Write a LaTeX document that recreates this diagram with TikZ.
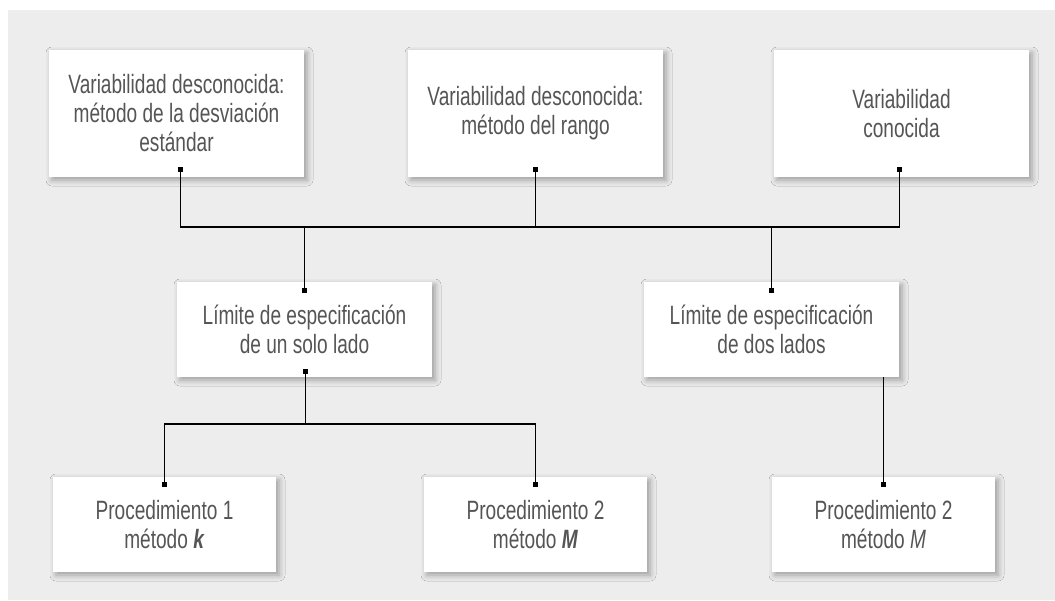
\documentclass[tikz,border=0pt]{standalone}
\usepackage{fontspec}
\setmainfont{Liberation Sans}[FakeStretch=0.72]
\usepackage{xcolor}
\usepackage{tikz}
\usetikzlibrary{shadows.blur}

\definecolor{panelgray}{HTML}{EDEDED}
\definecolor{textgray}{HTML}{555555}

\begin{document}
\begin{tikzpicture}[
    x=1pt, y=-1pt,
    box/.style={fill=white, inner sep=0pt, align=center, text=textgray,
        font=\fontsize{26.5}{29}\selectfont,
        blur shadow={shadow xshift=3pt, shadow yshift=-3pt, shadow blur radius=6pt, shadow opacity=35}},
    widebox/.style={box, minimum width=255pt},
    smallbox/.style={box, minimum width=223pt, minimum height=95pt},
    dot/.style={rectangle, fill=black, minimum size=5pt, inner sep=0pt},
    conn/.style={line width=1.2pt, black},
]

% === Canvas ===
\useasboundingbox (0,0) rectangle (1055,600);
\fill[panelgray] (8,10) rectangle (1055,600);

% === Top row: variability ===
\node[widebox, minimum height=127pt] (vsd) at (176.5,113.5) {Variabilidad desconocida:\\método de la desviación\\estándar};
\node[widebox, minimum height=127pt] (vr) at (535.5,113.5) {Variabilidad desconocida:\\método del rango};
\node[widebox, minimum height=127pt] (vk) at (901.5,113.5) {Variabilidad\\conocida};

% === Middle row: specification limits ===
\node[widebox, minimum height=95pt] (uno) at (304.5,329.5) {Límite de especificación\\de un solo lado};
\node[widebox, minimum height=95pt] (dos) at (771.5,329.5) {Límite de especificación\\de dos lados};

% === Bottom row: procedures ===
\node[smallbox] (pk) at (164.5,524.5) {Procedimiento 1\\método \textbf{\textit{k}}};
\node[smallbox] (pm) at (535.5,524.5) {Procedimiento 2\\método \textbf{\textit{M}}};
\node[smallbox] (pm2) at (883.5,524.5) {Procedimiento 2\\método \textit{M}};

% === Bus lines ===
\coordinate (bus1) at (0,227);
\coordinate (bus2) at (0,424);

% === Connector end dots ===
\node[dot] (vsdd) at ([xshift=4pt, yshift=8pt]vsd.south) {};
\node[dot] (vrd) at ([yshift=8pt]vr.south) {};
\node[dot] (vkd) at ([xshift=-2pt, yshift=8pt]vk.south) {};
\node[dot] (unot) at ([yshift=-9pt]uno.north) {};
\node[dot] (unob) at ([xshift=1pt, yshift=6pt]uno.south) {};
\node[dot] (dost) at ([yshift=-9pt]dos.north) {};
\node[dot] (pkd) at ([yshift=-8pt]pk.north) {};
\node[dot] (pmd) at ([yshift=-8pt]pm.north) {};
\node[dot] (pm2d) at ([yshift=-8pt]pm2.north) {};

% === Connectors ===
\draw[conn] (vsdd.center) -- (vsdd |- bus1) -- (vkd |- bus1) -- (vkd.center);
\draw[conn] (vrd.center) -- (vrd |- bus1);
\draw[conn] (unot.center) -- (unot |- bus1);
\draw[conn] (dost.center) -- (dost |- bus1);

\draw[conn] (unob.center) -- (unob |- bus2);
\draw[conn] (pkd.center) -- (pkd |- bus2) -- (pmd |- bus2) -- (pmd.center);
\draw[conn] (pm2d |- dos.south) -- (pm2d.center);

\end{tikzpicture}
\end{document}
